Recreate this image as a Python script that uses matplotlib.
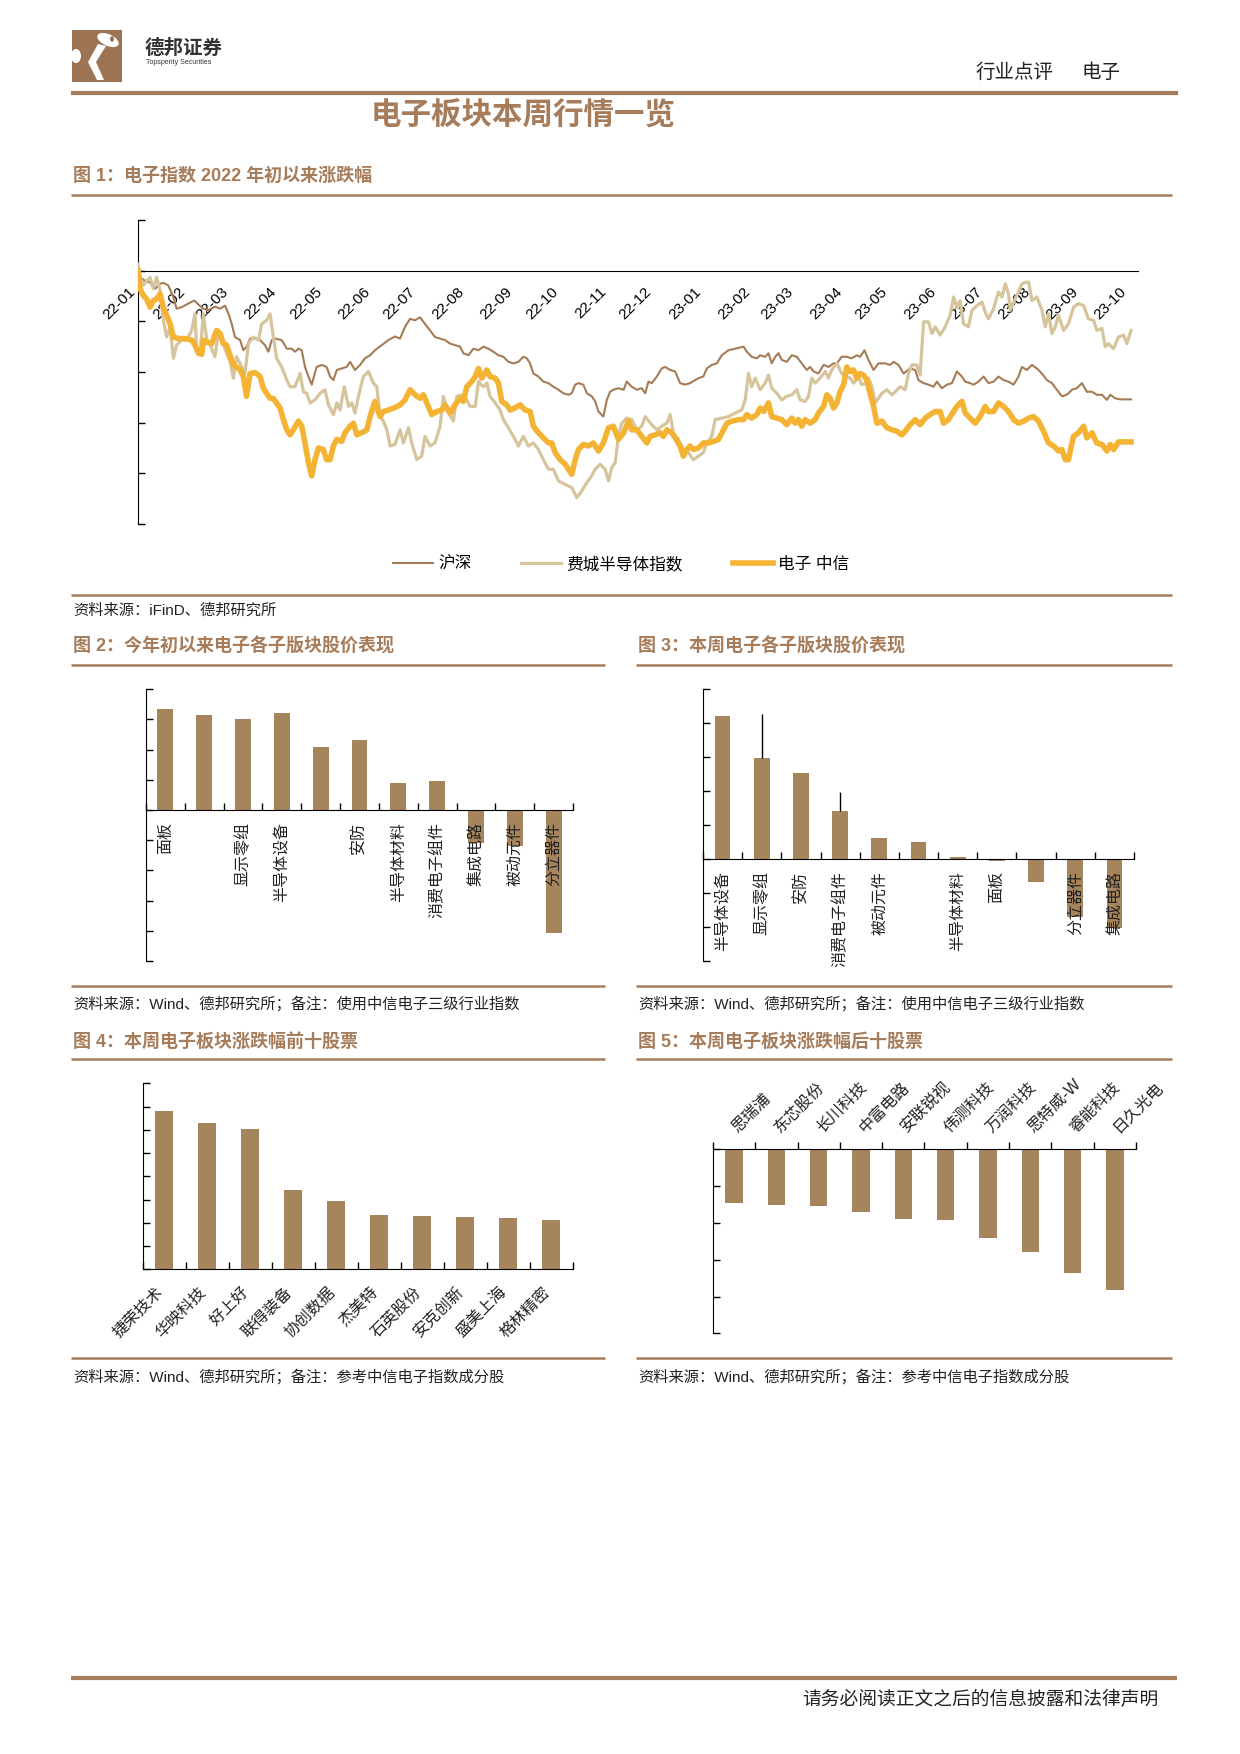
import numpy as np
import matplotlib
matplotlib.use('Agg')
import matplotlib.pyplot as plt
import matplotlib.transforms as mtransforms
from matplotlib.lines import Line2D
from matplotlib.patches import Rectangle, Ellipse, Polygon, Circle

plt.rcParams['font.family'] = ['Liberation Sans', 'Noto Sans CJK SC', 'DejaVu Sans']

W, H = 1240, 1754
BROWN = '#A67C5A'
BAR = '#A6845C'
TEXT = '#222222'

# ---------------- 图1 数据（交易日序号, 涨跌幅%） ----------------
month_labels = ['22-01', '22-02', '22-03', '22-04', '22-05', '22-06', '22-07', '22-08',
                '22-09', '22-10', '22-11', '22-12', '23-01', '23-02', '23-03', '23-04',
                '23-05', '23-06', '23-07', '23-08', '23-09', '23-10']
month_pos = [0, 21.5, 40, 60.5, 80.5, 101, 120.5, 141.5, 162, 182, 202.5, 222,
             243.5, 264.5, 283, 304, 323.5, 344.5, 364, 385, 405.5, 426]

hs_day = [0, 0.9, 3.0, 5.2, 7.3, 9.5, 10.9, 13.0, 15.2, 16.6, 18.8, 21.6, 24.2, 26.0, 28.1,
          30.2, 33.1, 35.3, 37.4, 38.9, 40.3, 41.7, 43.9, 45.3, 46.7, 48.2, 50.3, 52.5, 54.6,
          56.1, 57.5, 58.9, 61.8, 64.0, 66.1, 67.5, 69.0, 70.4, 71.8, 73.3, 74.7, 76.8, 79.0,
          81.1, 82.6, 84.0, 85.5, 87.6, 89.7, 91.2, 93.3, 95.5, 97.6, 99.8, 101.9, 104.8, 107.7,
          110.5, 112.7, 114.8, 117.0, 119.1, 121.3, 123.4, 125.6, 127.7, 129.9, 132.0, 134.2,
          136.3, 138.5, 139.9, 142.1, 144.2, 146.4, 148.5, 150.7, 152.8, 155.0, 157.1, 159.3,
          161.4, 163.6, 165.7, 167.2, 168.6, 170.0, 172.2, 174.3, 176.5, 178.6, 180.8, 182.9,
          185.1, 186.5, 188.0, 189.4, 191.5, 193.0, 195.1, 196.6, 198.0, 200.1, 201.6, 203.0,
          204.4, 206.6, 208.8, 210.2, 212.3, 214.5, 216.6, 218.1, 219.5, 220.9, 223.1, 225.2,
          226.7, 228.8, 231.0, 233.1, 235.3, 237.4, 241.0, 243.1, 244.6, 246.7, 248.9, 251.0,
          253.9, 256.8, 260.4, 261.8, 263.9, 266.1, 267.5, 269.7, 271.1, 272.5, 274.0, 275.4,
          276.8, 279.0, 281.1, 283.3, 285.4, 287.6, 289.0, 290.5, 292.6, 294.8, 296.9, 299.1,
          300.5, 302.6, 304.8, 306.9, 309.1, 310.5, 312.4, 314.1, 316.3, 318.4, 321.3, 323.4,
          324.9, 327.0, 329.2, 332.0, 334.2, 335.6, 337.8, 339.9, 342.1, 343.5, 345.7, 347.8,
          350.0, 352.1, 354.3, 355.7, 357.8, 359.3, 361.4, 363.6, 365.7, 367.9, 370.0, 372.2,
          374.3, 376.5, 378.6, 380.1, 382.2, 384.4, 386.5, 388.7, 390.8, 393.0, 395.1, 397.3,
          399.4, 401.6, 403.7, 405.9, 408.0, 410.2, 412.3, 414.5, 416.6, 418.1, 420.2, 422.4, 427.0]
hs_val = [0, -1.3, -2.0, -2.3, -3.6, -2.6, -2.4, -2.9, -5.2, -7.5, -7.2, -6.5, -5.9, -6.7, -7.5,
          -7.8, -7.1, -7.5, -6.9, -8.5, -10.5, -13.1, -13.7, -15.7, -15.0, -13.4, -13.4, -13.7, -14.7,
          -16.0, -13.7, -13.4, -13.7, -15.4, -15.4, -16.0, -15.4, -15.7, -19.0, -20.9, -22.5, -19.0, -18.6,
          -19.0, -20.9, -21.6, -19.6, -19.3, -19.0, -18.0, -19.6, -18.6, -17.3, -16.7, -15.7, -14.7, -13.7,
          -13.0, -13.4, -11.1, -9.5, -9.8, -9.2, -10.5, -11.8, -13.1, -13.4, -13.7, -14.4,
          -14.7, -15.0, -16.3, -16.7, -15.4, -15.7, -15.0, -15.4, -16.0, -16.7, -17.0, -18.0,
          -18.3, -18.0, -17.0, -17.3, -18.3, -20.3, -20.9, -21.9, -22.2, -22.9, -23.5, -24.2,
          -24.5, -24.2, -22.5, -22.2, -22.5, -24.2, -24.8, -25.8, -27.8, -28.8, -25.5, -23.9,
          -23.5, -23.2, -23.5, -21.9, -22.9, -23.5, -23.2, -24.2, -21.9, -22.2, -20.9, -19.3,
          -19.0, -19.6, -19.9, -22.2, -22.5, -22.2, -21.2, -20.9, -19.3, -18.6, -18.3, -16.7,
          -15.7, -15.4, -15.0, -16.0, -17.0, -17.3, -16.7, -17.0, -16.3, -18.3, -17.0, -16.3,
          -17.6, -18.0, -16.7, -17.0, -18.3, -19.6, -19.0, -19.9, -20.3, -18.6, -19.0, -18.3,
          -18.3, -17.0, -17.0, -17.3, -16.7, -17.0, -15.7, -17.6, -19.6, -18.3, -18.3, -18.6,
          -18.0, -18.6, -20.3, -19.3, -19.6, -21.6, -22.2, -22.5, -22.9, -21.9, -23.2, -22.5,
          -22.2, -19.9, -20.9, -21.9, -22.2, -22.5, -21.9, -20.9, -22.2, -21.9, -20.9, -21.6,
          -21.9, -22.5, -20.9, -19.0, -19.6, -18.6, -19.3, -20.3, -21.6, -22.2, -23.5, -24.8,
          -24.5, -23.5, -23.2, -22.2, -23.9, -23.9, -24.5, -24.5, -25.5, -24.5, -25.2, -25.4, -25.4]

sox_day = [0, 0.9, 2.3, 3.7, 5.2, 6.6, 8.0, 9.5, 10.9, 12.3, 13.8, 15.2, 16.6, 18.8, 20.9, 23.1,
           24.5, 25.2, 26.7, 28.1, 29.5, 31.0, 33.1, 34.5, 36.7, 38.1, 39.6, 41.0, 42.4, 43.9,
           46.0, 47.5, 49.6, 51.8, 53.2, 55.3, 56.8, 57.8, 59.6, 61.8, 64.0, 65.4, 67.5, 69.7,
           71.1, 72.5, 74.0, 76.1, 78.3, 80.4, 81.9, 84.0, 85.5, 86.9, 88.7, 90.5, 91.9, 93.3,
           94.8, 96.9, 99.1, 101.2, 102.7, 104.1, 105.5, 107.0, 108.4, 110.5, 112.7, 114.1, 116.3,
           117.7, 119.9, 122.0, 123.4, 125.6, 127.7, 129.9, 131.3, 133.5, 135.6, 137.1, 139.2,
           141.4, 142.8, 145.0, 146.4, 148.5, 150.0, 151.4, 153.6, 155.7, 157.1, 159.3, 161.4,
           163.6, 165.7, 167.9, 170.0, 172.2, 174.3, 176.5, 178.6, 180.8, 183.7, 186.5, 188.7,
           190.8, 193.0, 195.1, 196.6, 198.7, 200.9, 202.3, 203.7, 205.2, 206.6, 208.0, 210.2,
           212.3, 214.5, 216.6, 218.1, 220.9, 223.1, 225.2, 227.4, 228.8, 230.2, 232.4, 234.5,
           236.7, 238.8, 241.0, 243.1, 244.6, 246.7, 248.2, 251.0, 253.9, 256.8, 259.6, 261.1,
           262.5, 263.9, 265.4, 267.5, 269.7, 271.1, 272.5, 274.7, 276.8, 279.0, 281.1, 283.3,
           284.7, 286.9, 288.3, 289.7, 291.2, 293.3, 295.5, 296.9, 298.3, 300.5, 302.6, 304.1,
           306.2, 307.7, 309.8, 311.2, 312.7, 314.1, 315.6, 317.0, 318.4, 319.9, 322.0, 324.2,
           325.6, 327.7, 329.9, 331.3, 332.8, 334.9, 336.3, 337.8, 339.9, 341.4, 342.8, 344.9,
           347.1, 349.2, 350.7, 352.1, 353.5, 355.0, 357.1, 358.6, 360.7, 362.9, 364.3, 365.7,
           367.9, 370.0, 371.5, 372.9, 374.3, 375.1, 376.5, 378.6, 380.1, 381.5, 383.0, 384.4,
           386.5, 388.7, 390.1, 391.5, 393.0, 394.4, 395.8, 398.0, 400.1, 402.3, 404.4, 406.6,
           408.7, 410.9, 412.3, 414.5, 415.9, 417.3, 419.5, 421.6, 423.8, 425.2, 427.0]
sox_val = [1.3, -1.3, -2.9, -2.0, -1.3, -3.6, -1.3, -3.9, -9.8, -13.1, -11.1, -17.3, -14.7, -13.7, -13.7, -11.8,
           -8.5, -15.7, -16.3, -8.5, -13.4, -14.7, -17.0, -12.4, -14.4, -16.3, -18.0, -21.2, -17.0, -18.3,
           -20.3, -14.4, -13.1, -13.7, -10.5, -9.8, -8.5, -11.8, -17.3, -19.0, -21.6, -22.9, -22.9, -20.3,
           -23.9, -24.2, -26.1, -25.5, -24.2, -23.5, -26.5, -28.4, -26.1, -27.5, -22.9, -26.8, -26.1, -28.1,
           -24.8, -20.9, -19.9, -22.2, -22.9, -28.8, -29.7, -31.4, -34.6, -34.3, -31.4, -34.0, -31.0,
           -34.0, -37.3, -36.6, -32.7, -34.6, -34.0, -30.7, -24.8, -28.1, -29.7, -24.8, -24.5,
           -25.5, -26.8, -26.8, -21.9, -22.9, -22.2, -24.8, -26.1, -27.5, -29.4, -31.0, -32.7,
           -34.6, -32.7, -34.6, -34.0, -35.3, -37.3, -39.2, -39.2, -41.5, -42.2, -42.8, -44.8,
           -43.5, -41.8, -40.5, -39.2, -38.2, -39.2, -41.5, -38.9, -37.9, -32.7, -30.1, -29.1,
           -29.4, -31.4, -30.7, -28.8, -30.4, -31.4, -30.7, -30.1, -28.4, -32.0, -33.3, -35.3,
           -35.9, -37.3, -36.6, -35.9, -34.0, -32.7, -29.4, -29.1, -28.8, -28.1, -27.5, -25.5,
           -20.3, -22.9, -21.2, -23.5, -22.2, -20.6, -23.2, -24.2, -25.5, -24.8, -24.5, -23.5,
           -25.5, -25.8, -24.8, -21.2, -22.2, -21.2, -19.9, -21.2, -19.6, -18.3, -20.3, -20.9,
           -21.2, -22.2, -20.9, -22.5, -22.2, -21.2, -22.9, -26.1, -25.2, -24.2, -23.5, -24.5,
           -23.9, -22.9, -23.5, -20.3, -18.6, -18.6, -20.6, -10.1, -10.1, -12.4, -11.1, -12.7,
           -11.1, -8.8, -5.2, -7.2, -5.9, -10.5, -11.1, -7.8, -6.9, -6.2, -8.2, -9.5,
           -7.5, -4.2, -5.2, -2.6, -4.6, -7.8, -6.2, -4.2, -2.6, -2.3, -2.3, -5.9,
           -5.2, -7.8, -11.1, -8.5, -12.4, -11.1, -8.8, -11.8, -10.5, -7.2, -6.5, -6.9,
           -9.5, -9.8, -11.8, -11.4, -15.0, -14.4, -15.4, -13.1, -12.7, -14.4, -11.8]

dz_day = [0, 0.9, 2.3, 3.7, 5.2, 6.6, 8.0, 9.5, 10.9, 12.3, 13.8, 15.2, 17.4, 20.2, 23.1, 24.5,
          26.0, 27.4, 28.1, 29.5, 31.7, 33.8, 35.3, 36.7, 38.1, 39.6, 41.0, 42.4, 43.9, 45.3,
          46.7, 48.2, 50.3, 52.5, 53.9, 55.3, 56.8, 58.2, 59.6, 61.1, 62.5, 64.0, 65.4, 66.8,
          69.0, 70.4, 71.8, 73.3, 74.7, 76.1, 77.6, 79.7, 81.1, 82.6, 84.0, 85.5, 87.6, 89.0,
          91.2, 92.6, 94.1, 96.2, 98.4, 99.8, 101.9, 104.1, 105.5, 107.7, 110.5, 112.7, 114.8,
          117.0, 119.1, 121.3, 122.7, 124.2, 126.3, 128.5, 130.6, 132.0, 134.2, 136.3, 138.5,
          139.9, 141.4, 143.5, 145.0, 146.4, 147.8, 150.0, 151.4, 153.6, 155.0, 156.4, 158.6,
          160.0, 162.1, 164.3, 166.5, 168.6, 170.0, 172.2, 174.3, 176.5, 177.9, 179.4, 181.5,
          183.7, 186.5, 188.0, 189.4, 191.5, 193.7, 195.8, 198.0, 200.1, 202.3, 204.4, 206.6,
          208.8, 210.9, 212.3, 214.5, 216.6, 218.8, 220.2, 222.4, 224.5, 225.9, 227.4, 229.5,
          231.0, 233.1, 234.5, 236.0, 237.4, 238.8, 241.0, 243.1, 245.3, 247.5, 249.6, 251.8,
          253.2, 255.3, 258.2, 260.4, 261.8, 263.9, 266.1, 267.5, 269.0, 271.1, 272.5, 274.7,
          276.8, 279.0, 281.1, 282.6, 284.0, 285.4, 286.9, 289.0, 291.2, 292.6, 294.8, 296.2,
          297.6, 299.1, 300.5, 301.9, 303.4, 304.8, 306.2, 307.7, 309.1, 310.5, 312.0, 313.4,
          314.8, 316.3, 317.7, 319.9, 322.0, 324.2, 326.3, 328.5, 329.9, 332.0, 334.2, 336.3,
          338.5, 340.6, 342.8, 344.9, 346.4, 348.5, 350.7, 352.1, 354.3, 355.7, 357.8, 360.0,
          362.1, 364.3, 365.7, 367.9, 370.0, 372.2, 374.3, 376.5, 378.6, 380.8, 383.0, 385.1,
          387.2, 389.4, 391.5, 393.7, 395.8, 397.3, 398.7, 400.1, 401.6, 402.3, 404.4, 406.6,
          408.0, 410.2, 412.3, 414.5, 416.6, 418.1, 419.5, 421.6, 427.0]
dz_val = [0, -3.6, -4.9, -5.6, -7.2, -5.9, -5.6, -4.6, -7.2, -8.8, -10.5, -13.1, -13.4, -13.4, -13.7, -14.7,
          -16.3, -16.5, -13.7, -14.1, -14.4, -11.8, -12.4, -14.4, -14.7, -16.7, -18.6, -19.0, -19.6, -20.9,
          -24.8, -20.3, -20.1, -20.9, -23.2, -24.2, -25.2, -25.2, -26.1, -27.1, -29.4, -31.4, -32.4, -31.4,
          -29.7, -30.7, -34.0, -37.9, -40.5, -37.3, -35.0, -35.3, -37.3, -37.3, -34.6, -33.3, -33.7, -32.0,
          -30.7, -30.1, -32.4, -32.0, -31.4, -28.8, -25.8, -28.8, -27.8, -27.5, -27.0, -26.5, -25.5,
          -23.5, -24.5, -25.2, -24.5, -26.1, -28.4, -27.8, -27.5, -26.5, -28.1, -26.5, -25.2,
          -25.8, -22.9, -21.9, -20.9, -19.3, -21.2, -19.6, -20.9, -21.2, -22.2, -25.8, -26.5,
          -27.5, -27.1, -26.5, -27.5, -27.8, -30.7, -32.0, -33.0, -34.0, -34.0, -35.9, -37.3,
          -38.2, -40.2, -37.3, -35.3, -34.3, -34.6, -34.0, -35.6, -34.0, -31.0, -30.7, -33.3,
          -32.0, -29.7, -31.4, -31.4, -32.7, -34.0, -32.7, -32.4, -32.0, -32.7, -31.4, -32.0,
          -33.0, -34.6, -36.6, -35.3, -34.6, -35.3, -35.0, -34.0, -34.0, -33.7, -33.3, -31.4,
          -30.1, -29.7, -29.4, -29.4, -28.4, -29.1, -28.4, -27.1, -27.8, -26.1, -28.8, -29.1,
          -29.4, -30.4, -29.1, -30.1, -29.4, -30.7, -29.4, -30.1, -29.4, -28.1, -26.8, -24.5,
          -25.2, -27.1, -26.1, -23.9, -22.5, -19.0, -19.9, -19.6, -21.2, -20.3, -20.6, -21.6,
          -24.2, -26.8, -30.1, -29.7, -31.0, -31.4, -31.7, -32.4, -31.7, -30.4, -29.4, -30.4,
          -29.1, -28.4, -27.8, -27.8, -30.1, -29.4, -27.8, -26.8, -25.8, -28.1, -29.1, -30.1,
          -28.8, -26.8, -27.8, -27.8, -26.1, -26.8, -27.8, -29.4, -30.1, -29.7, -29.1, -28.8,
          -29.7, -31.7, -34.0, -34.6, -35.6, -35.3, -37.3, -37.3, -34.0, -32.7, -32.0, -30.7,
          -33.0, -32.0, -34.0, -34.3, -35.6, -34.3, -35.3, -33.8, -33.8]

# ---------------- 图2/图3 子版块 ----------------
ytd_names = ['面板', '', '显示零组', '半导体设备', '', '安防', '半导体材料', '消费电子组件',
             '集成电路', '被动元件', '分立器件']
ytd_vals = [33.4, 31.4, 30.0, 32.3, 20.8, 23.2, 8.8, 9.7, -11.0, -11.9, -40.7]

wk_names = ['半导体设备', '显示零组', '安防', '消费电子组件', '被动元件', '', '半导体材料',
            '面板', '', '分立器件', '集成电路']
wk_vals = [4.22, 2.98, 2.53, 1.42, 0.62, 0.51, 0.05, -0.07, -0.66, -1.69, -2.03]
wk_line_idx = [1, 3]
wk_line_top = [4.28, 1.99]

# ---------------- 图4/图5 个股 ----------------
top_names = ['捷荣技术', '华映科技', '好上好', '联得装备', '协创数据', '杰美特', '石英股份',
             '安克创新', '盛美上海', '格林精密']
top_vals = [34.0, 31.5, 30.2, 17.0, 14.6, 11.6, 11.4, 11.2, 11.0, 10.5]

low_names = ['思瑞浦', '东芯股份', '长川科技', '中富电路', '安联锐视', '伟测科技', '万润科技',
             '思特威-W', '睿能科技', '日久光电']
low_vals = [-7.3, -7.5, -7.7, -8.5, -9.5, -9.6, -12.0, -14.0, -16.8, -19.1]


fig = plt.figure(figsize=(W / 100, H / 100), dpi=100)


def fx(x):
    return x / W


def fy(y):
    return 1 - y / H


def rule(x0, x1, y, lw=1.8):
    fig.add_artist(Line2D([fx(x0), fx(x1)], [fy(y), fy(y)], transform=fig.transFigure,
                          color=BROWN, lw=lw, solid_capstyle='butt'))


def axes_px(left, top, right, bottom):
    return fig.add_axes([fx(left), fy(bottom), (right - left) / W, (bottom - top) / H])


# ---------------- 页眉 ----------------
fig.add_artist(Rectangle((fx(72), fy(82)), 50 / W, 52 / H, transform=fig.transFigure,
                         color='#9C7453', lw=0))
fig.add_artist(Ellipse((fx(108), fy(40)), 22 / W, 12 / H, angle=-15, transform=fig.transFigure,
                       color='white', lw=0))
fig.add_artist(Polygon([(fx(98), fy(44)), (fx(106), fy(46)), (fx(96), fy(62)), (fx(104), fy(80)),
                        (fx(97), fy(80)), (fx(88), fy(62))], closed=True,
                       transform=fig.transFigure, color='white', lw=0))
fig.add_artist(Circle((fx(76), fy(56)), 5 / W, transform=fig.transFigure, color='white', lw=0))
fig.add_artist(Circle((fx(112), fy(39)), 2 / W, transform=fig.transFigure, color='#9C7453', lw=0))
fig.text(fx(145), fy(48), '德邦证券', fontsize=14, fontweight='bold', color='#333333', va='center')
fig.text(fx(146), fy(63), 'Topsperity Securities', fontsize=5, color='#333333', va='center')
fig.text(fx(976), fy(73), '行业点评', fontsize=14, color=TEXT, va='center')
fig.text(fx(1121), fy(73), '电子', fontsize=14, color=TEXT, va='center', ha='right')
rule(71, 1178, 93, lw=3)
fig.text(fx(523), fy(116), '电子板块本周行情一览', fontsize=22, fontweight='bold',
         color=BROWN, ha='center', va='center')

# ---------------- 图1 ----------------
fig.text(fx(73), fy(176), '图 1：电子指数 2022 年初以来涨跌幅', fontsize=13, fontweight='bold',
         color=BROWN, va='center')
rule(71, 1172, 195)

ax1 = axes_px(138, 220, 1138, 524)
l1, = ax1.plot(hs_day, hs_val, color='#A57C55', lw=1.5, zorder=3)
l2, = ax1.plot(sox_day, sox_val, color='#D6C49C', lw=2.3, zorder=3)
l3, = ax1.plot(dz_day, dz_val, color='#F4B333', lw=4, zorder=3)
ax1.set_xlim(0, 430)
ax1.set_ylim(-50, 10)
ax1.spines[['top', 'right']].set_visible(False)
ax1.spines['bottom'].set_position(('data', 0))
ax1.set_yticks(np.arange(-50, 11, 10))
ax1.set_yticklabels([])
ax1.tick_params(axis='y', direction='in', length=5, width=1)
ax1.set_xticks(month_pos)
ax1.set_xticklabels(month_labels, rotation=45, ha='right', va='top', fontsize=11)
ax1.tick_params(axis='x', length=0, pad=10)
ax1.patch.set_alpha(0)

fig.legend([l1, l2, l3], ['沪深', '费城半导体指数', '电子 中信'], loc='center',
           bbox_to_anchor=(fx(621), fy(564)), ncol=3, frameon=False, fontsize=12,
           handlelength=2.4, columnspacing=3.0, handletextpad=0.3)

rule(71, 1172, 595)
fig.text(fx(73), fy(611), '资料来源：iFinD、德邦研究所', fontsize=11, color=TEXT, va='center')


# ---------------- 柱状图 ----------------
def bar_panel(rect, vals, ylim, step, width):
    ax = axes_px(*rect)
    x = np.arange(len(vals))
    ax.bar(x, vals, width=width, color=BAR, lw=0, zorder=2)
    ax.set_xlim(-0.5, len(vals) - 0.5)
    ax.set_ylim(*ylim)
    ax.spines[['top', 'right']].set_visible(False)
    ax.spines['bottom'].set_position(('data', 0))
    ax.set_yticks(np.arange(ylim[0], ylim[1] + step / 2, step))
    ax.set_yticklabels([])
    ax.set_xticks(np.arange(len(vals) + 1) - 0.5)
    ax.set_xticklabels([])
    ax.tick_params(direction='in', length=5, width=1)
    ax.patch.set_alpha(0)
    return ax


def vertical_labels(ax, names):
    trans = mtransforms.offset_copy(ax.transData, fig=fig, x=0, y=-12, units='dots')
    for i, name in enumerate(names):
        ax.text(i, 0, name, rotation=90, ha='center', va='top', fontsize=11.5,
                color=TEXT, transform=trans, zorder=4)


# 图2
fig.text(fx(73), fy(647), '图 2：今年初以来电子各子版块股价表现', fontsize=13, fontweight='bold',
         color=BROWN, va='center')
rule(71, 605, 665)
ax2 = bar_panel((146, 689.3, 573, 961), ytd_vals, (-50, 40), 10, 0.41)
vertical_labels(ax2, ytd_names)
rule(71, 605, 986)
fig.text(fx(73), fy(1004), '资料来源：Wind、德邦研究所；备注：使用中信电子三级行业指数',
         fontsize=11, color=TEXT, va='center')

# 图3
fig.text(fx(638), fy(647), '图 3：本周电子各子版块股价表现', fontsize=13, fontweight='bold',
         color=BROWN, va='center')
rule(636, 1172, 665)
ax3 = bar_panel((703, 689.3, 1134, 961), wk_vals, (-3, 5), 1, 0.40)
ax3.vlines(wk_line_idx, [wk_vals[i] for i in wk_line_idx], wk_line_top, color='black', lw=1, zorder=3)
vertical_labels(ax3, wk_names)
rule(636, 1172, 986)
fig.text(fx(638), fy(1004), '资料来源：Wind、德邦研究所；备注：使用中信电子三级行业指数',
         fontsize=11, color=TEXT, va='center')

# 图4
fig.text(fx(73), fy(1042), '图 4：本周电子板块涨跌幅前十股票', fontsize=13, fontweight='bold',
         color=BROWN, va='center')
rule(71, 605, 1059)
ax4 = bar_panel((142.5, 1083.3, 572.5, 1269.3), top_vals, (0, 40), 5, 0.42)
trans4 = mtransforms.offset_copy(ax4.transData, fig=fig, x=2, y=-15, units='dots')
for i, name in enumerate(top_names):
    ax4.text(i, 0, name, rotation=45, ha='right', va='top', fontsize=11.5, color=TEXT,
             transform=trans4)
rule(71, 605, 1358)
fig.text(fx(73), fy(1377), '资料来源：Wind、德邦研究所；备注：参考中信电子指数成分股',
         fontsize=11, color=TEXT, va='center')

# 图5
fig.text(fx(638), fy(1042), '图 5：本周电子板块涨跌幅后十股票', fontsize=13, fontweight='bold',
         color=BROWN, va='center')
rule(636, 1172, 1059)
ax5 = bar_panel((713, 1149.3, 1136, 1333.3), low_vals, (-25, 0), 5, 0.41)
trans5 = mtransforms.offset_copy(ax5.transData, fig=fig, x=-5, y=14, units='dots')
clip = mtransforms.Bbox([[0, 0], [1163, H]])
for i, name in enumerate(low_names):
    t = ax5.text(i, 0, name, rotation=45, ha='left', va='bottom', fontsize=11.5, color=TEXT,
                 transform=trans5)
    t.set_clip_box(mtransforms.TransformedBbox(clip, mtransforms.IdentityTransform()))
    t.set_clip_on(True)
rule(636, 1172, 1358)
fig.text(fx(638), fy(1377), '资料来源：Wind、德邦研究所；备注：参考中信电子指数成分股',
         fontsize=11, color=TEXT, va='center')

# ---------------- 页脚 ----------------
rule(71, 1177, 1678, lw=3)
fig.text(fx(1158), fy(1700), '请务必阅读正文之后的信息披露和法律声明', fontsize=13.5, color=TEXT,
         ha='right', va='center')

fig.savefig('out.png', dpi=100)
